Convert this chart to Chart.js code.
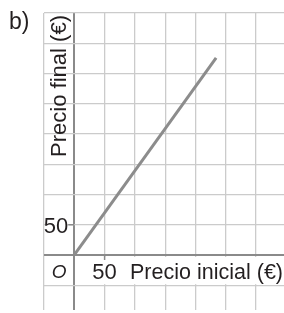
<!DOCTYPE html>
<html>
<head>
<meta charset="utf-8">
<script src="https://cdn.jsdelivr.net/npm/chart.js@4"></script>
<style>
  html, body { margin: 0; padding: 0; background: #fff; }
  #chart { display: block; }
</style>
</head>
<body>
<canvas id="chart" width="284" height="313"></canvas>
<script>
// data
const precioInicial = [0, 234];
const precioFinal = [0, 326];
const xTicks = [-50, 0, 50, 100, 150, 200, 250, 300];
const yTicks = [-50, 0, 50, 100, 150, 200, 250, 300, 350, 400];
const xLabel = 'Precio inicial (€)';
const yLabel = 'Precio final (€)';
const tickLabel = '50';

const gridColor = '#cbcbcb';
const axisColor = '#8a8a8a';
const textColor = '#231f20';
const fontName = '"Liberation Sans", Arial, sans-serif';

// fit a string into a given width by squeezing it horizontally
function fitText(ctx, txt, x, y, size, width) {
    ctx.font = size + 'px ' + fontName;
    const w = ctx.measureText(txt).width;
    ctx.save();
    ctx.translate(x, y);
    ctx.scale(width / w, 1);
    ctx.fillText(txt, 0, 0);
    ctx.restore();
}

const labelsPlugin = {
    id: 'labels',
    afterDraw(chart) {
        const ctx = chart.ctx;
        const xs = chart.scales.x;
        const ys = chart.scales.y;
        const x0 = xs.getPixelForValue(0);
        const y0 = ys.getPixelForValue(0);
        const x50 = xs.getPixelForValue(50);
        const y50 = ys.getPixelForValue(50);
        const yMinus50 = ys.getPixelForValue(-50);

        ctx.save();
        // white band behind the x label row
        ctx.fillStyle = '#fff';
        ctx.fillRect(x0 + 2, y0 + 2, chart.chartArea.right - x0 - 2, yMinus50 - y0 - 3);
        // white behind the y "50"
        ctx.fillRect(chart.chartArea.left + 1, y50 - 9, x0 - chart.chartArea.left - 8, 18);

        // small tick marks
        ctx.strokeStyle = axisColor;
        ctx.lineWidth = 1.5;
        ctx.beginPath();
        ctx.moveTo(x0 - 6, y50);
        ctx.lineTo(x0, y50);
        ctx.moveTo(x50, y0);
        ctx.lineTo(x50, y0 + 5);
        ctx.stroke();

        ctx.fillStyle = textColor;
        ctx.textBaseline = 'alphabetic';
        ctx.textAlign = 'left';

        // panel letter
        ctx.font = '23px ' + fontName;
        ctx.fillText('b)', 9, 29);

        // tick numbers
        ctx.font = '22px ' + fontName;
        ctx.textAlign = 'right';
        ctx.fillText(tickLabel, x0 - 6, y50 + 8);
        ctx.textAlign = 'center';
        ctx.fillText(tickLabel, x50, y0 + 24);

        // origin
        ctx.font = 'italic 19px ' + fontName;
        ctx.fillText('O', (chart.chartArea.left + x0) / 2, y0 + 23);

        // axis titles
        ctx.textAlign = 'left';
        fitText(ctx, xLabel, 130, y0 + 24, 22, 153);

        ctx.save();
        ctx.translate(66, 157);
        ctx.rotate(-Math.PI / 2);
        fitText(ctx, yLabel, 0, 0, 22, 142);
        ctx.restore();

        ctx.restore();
    }
};

function gridOpts() {
    return {
        drawTicks: false,
        color: c => c.tick && c.tick.value === 0 ? axisColor : gridColor,
        lineWidth: c => c.tick && c.tick.value === 0 ? 2 : 1.3
    };
}

new Chart(document.getElementById('chart'), {
    type: 'scatter',
    data: {
        datasets: [{
            data: precioInicial.map((v, i) => ({ x: v, y: precioFinal[i] })),
            showLine: true,
            borderColor: '#8c8c8c',
            borderWidth: 3,
            pointRadius: 0,
            fill: false
        }]
    },
    options: {
        responsive: false,
        animation: false,
        layout: { padding: { left: 44, top: 13, right: 0, bottom: 3 } },
        plugins: {
            legend: { display: false },
            tooltip: { enabled: false }
        },
        scales: {
            x: {
                type: 'linear',
                min: -50,
                max: 346,
                afterBuildTicks: s => { s.ticks = xTicks.map(v => ({ value: v })); },
                ticks: { display: false },
                grid: gridOpts(),
                border: { display: false }
            },
            y: {
                type: 'linear',
                min: -91,
                max: 400,
                afterBuildTicks: s => { s.ticks = yTicks.map(v => ({ value: v })); },
                ticks: { display: false },
                grid: gridOpts(),
                border: { display: false }
            }
        }
    },
    plugins: [labelsPlugin]
});
</script>
</body>
</html>
